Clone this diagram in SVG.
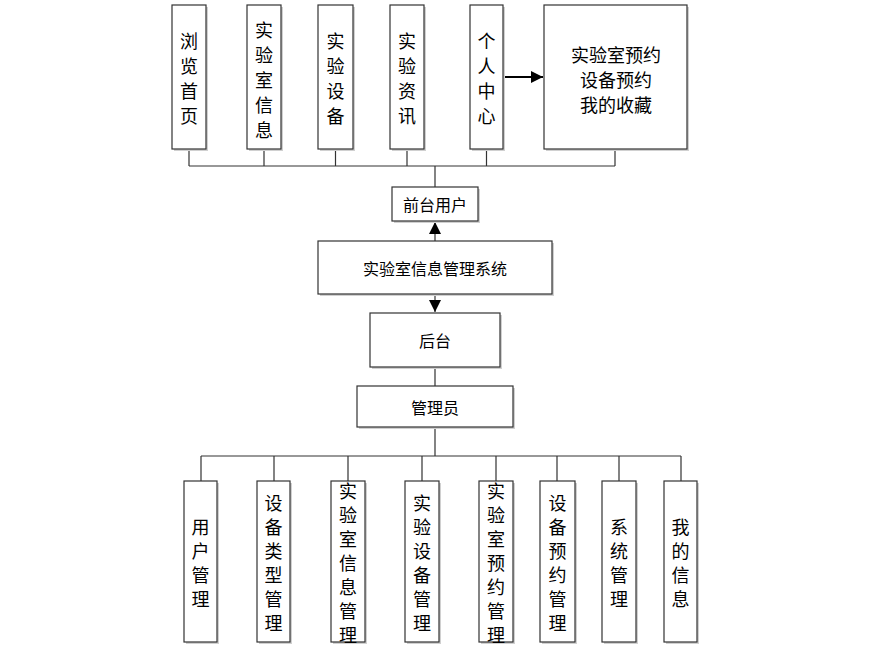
<svg xmlns="http://www.w3.org/2000/svg" width="878" height="652" viewBox="0 0 878 652">
<style>
.box{fill:#fff;stroke:#333;stroke-width:1.2}
.sh{fill:#d0d0d0}
.ln{fill:none;stroke:#333;stroke-width:1.2}
.t{font-family:"Noto Sans CJK SC","Noto Sans",sans-serif;font-size:18px;fill:#000;text-anchor:middle;dominant-baseline:central}
.s{font-size:16px}
</style>
<defs>
<marker id="ah" viewBox="0 0 10 10" refX="10" refY="5" markerWidth="12" markerHeight="12" markerUnits="userSpaceOnUse" orient="auto">
<path d="M0,0 L10,5 L0,10 Z" fill="#000"/>
</marker>
</defs>
<rect width="878" height="652" fill="#fff"/>
<g id="connectors">
<path class="ln" d="M189,149 V166 M264,149 V166 M335.5,149 V166 M407,149 V166 M486.5,149 V166 M615,149 V166 M189,166 H615 M435,166 V187"/>
<path class="ln" style="stroke:#000;stroke-width:2" d="M503,77 H543" marker-end="url(#ah)"/>
<path class="ln" d="M435,241 V222" marker-end="url(#ah)"/>
<path class="ln" d="M435,294 V312" marker-end="url(#ah)"/>
<path class="ln" d="M435,367 V386 M435,427 V456 M201,456 H681 M201,456 V481 M274,456 V481 M348,456 V481 M422,456 V481 M496,456 V481 M557,456 V481 M619,456 V481 M681,456 V481"/>
</g>
<g id="n1"><rect class="sh" x="174" y="7" width="34" height="144"/><rect class="box" x="172" y="5" width="34" height="144"/>
<text class="t"><tspan x="189" y="39.5">浏</tspan><tspan x="189" y="64.5">览</tspan><tspan x="189" y="89.5">首</tspan><tspan x="189" y="114.5">页</tspan></text></g>
<g id="n2"><rect class="sh" x="249" y="7" width="34" height="144"/><rect class="box" x="247" y="5" width="34" height="144"/>
<text class="t"><tspan x="264" y="29">实</tspan><tspan x="264" y="54">验</tspan><tspan x="264" y="79">室</tspan><tspan x="264" y="104">信</tspan><tspan x="264" y="129">息</tspan></text></g>
<g id="n3"><rect class="sh" x="320" y="7" width="35" height="144"/><rect class="box" x="318" y="5" width="35" height="144"/>
<text class="t"><tspan x="335.5" y="39.5">实</tspan><tspan x="335.5" y="64.5">验</tspan><tspan x="335.5" y="89.5">设</tspan><tspan x="335.5" y="114.5">备</tspan></text></g>
<g id="n4"><rect class="sh" x="392" y="7" width="34" height="144"/><rect class="box" x="390" y="5" width="34" height="144"/>
<text class="t"><tspan x="407" y="39.5">实</tspan><tspan x="407" y="64.5">验</tspan><tspan x="407" y="89.5">资</tspan><tspan x="407" y="114.5">讯</tspan></text></g>
<g id="n5"><rect class="sh" x="472" y="7" width="33" height="144"/><rect class="box" x="470" y="5" width="33" height="144"/>
<text class="t"><tspan x="486.5" y="39.5">个</tspan><tspan x="486.5" y="64.5">人</tspan><tspan x="486.5" y="89.5">中</tspan><tspan x="486.5" y="114.5">心</tspan></text></g>
<g id="n6"><rect class="sh" x="546" y="7" width="143" height="144"/><rect class="box" x="544" y="5" width="143" height="144"/>
<text class="t"><tspan x="616" y="54">实验室预约</tspan><tspan x="616" y="79">设备预约</tspan><tspan x="616" y="104">我的收藏</tspan></text></g>
<g id="qt"><rect class="sh" x="394" y="189" width="86" height="34"/><rect class="box" x="392" y="187" width="86" height="34"/>
<text class="t s" x="435" y="204">前台用户</text></g>
<g id="sys"><rect class="sh" x="320" y="243" width="234" height="53"/><rect class="box" x="318" y="241" width="234" height="53"/>
<text class="t s" x="435" y="268">实验室信息管理系统</text></g>
<g id="ht"><rect class="sh" x="372" y="315" width="130" height="54"/><rect class="box" x="370" y="313" width="130" height="54"/>
<text class="t s" x="435" y="340">后台</text></g>
<g id="gly"><rect class="sh" x="359" y="388" width="156" height="41"/><rect class="box" x="357" y="386" width="156" height="41"/>
<text class="t s" x="435" y="407">管理员</text></g>
<g id="b1"><rect class="sh" x="186" y="483" width="33" height="161"/><rect class="box" x="184" y="481" width="33" height="161"/>
<text class="t"><tspan x="200.5" y="525.5">用</tspan><tspan x="200.5" y="549.5">户</tspan><tspan x="200.5" y="573.5">管</tspan><tspan x="200.5" y="597.5">理</tspan></text></g>
<g id="b2"><rect class="sh" x="259" y="483" width="33" height="161"/><rect class="box" x="257" y="481" width="33" height="161"/>
<text class="t"><tspan x="273.5" y="501.5">设</tspan><tspan x="273.5" y="525.5">备</tspan><tspan x="273.5" y="549.5">类</tspan><tspan x="273.5" y="573.5">型</tspan><tspan x="273.5" y="597.5">管</tspan><tspan x="273.5" y="621.5">理</tspan></text></g>
<g id="b3"><rect class="sh" x="333" y="483" width="34" height="161"/><rect class="box" x="331" y="481" width="34" height="161"/>
<text class="t"><tspan x="348" y="490">实</tspan><tspan x="348" y="514">验</tspan><tspan x="348" y="538">室</tspan><tspan x="348" y="562">信</tspan><tspan x="348" y="586">息</tspan><tspan x="348" y="610">管</tspan><tspan x="348" y="634">理</tspan></text></g>
<g id="b4"><rect class="sh" x="407" y="483" width="34" height="161"/><rect class="box" x="405" y="481" width="34" height="161"/>
<text class="t"><tspan x="422" y="501.5">实</tspan><tspan x="422" y="525.5">验</tspan><tspan x="422" y="549.5">设</tspan><tspan x="422" y="573.5">备</tspan><tspan x="422" y="597.5">管</tspan><tspan x="422" y="621.5">理</tspan></text></g>
<g id="b5"><rect class="sh" x="481" y="483" width="34" height="161"/><rect class="box" x="479" y="481" width="34" height="161"/>
<text class="t"><tspan x="496" y="490">实</tspan><tspan x="496" y="514">验</tspan><tspan x="496" y="538">室</tspan><tspan x="496" y="562">预</tspan><tspan x="496" y="586">约</tspan><tspan x="496" y="610">管</tspan><tspan x="496" y="634">理</tspan></text></g>
<g id="b6"><rect class="sh" x="542" y="483" width="35" height="161"/><rect class="box" x="540" y="481" width="35" height="161"/>
<text class="t"><tspan x="557.5" y="501.5">设</tspan><tspan x="557.5" y="525.5">备</tspan><tspan x="557.5" y="549.5">预</tspan><tspan x="557.5" y="573.5">约</tspan><tspan x="557.5" y="597.5">管</tspan><tspan x="557.5" y="621.5">理</tspan></text></g>
<g id="b7"><rect class="sh" x="604" y="483" width="34" height="161"/><rect class="box" x="602" y="481" width="34" height="161"/>
<text class="t"><tspan x="619" y="525.5">系</tspan><tspan x="619" y="549.5">统</tspan><tspan x="619" y="573.5">管</tspan><tspan x="619" y="597.5">理</tspan></text></g>
<g id="b8"><rect class="sh" x="666" y="483" width="33" height="161"/><rect class="box" x="664" y="481" width="33" height="161"/>
<text class="t"><tspan x="680.5" y="525.5">我</tspan><tspan x="680.5" y="549.5">的</tspan><tspan x="680.5" y="573.5">信</tspan><tspan x="680.5" y="597.5">息</tspan></text></g>
</svg>
